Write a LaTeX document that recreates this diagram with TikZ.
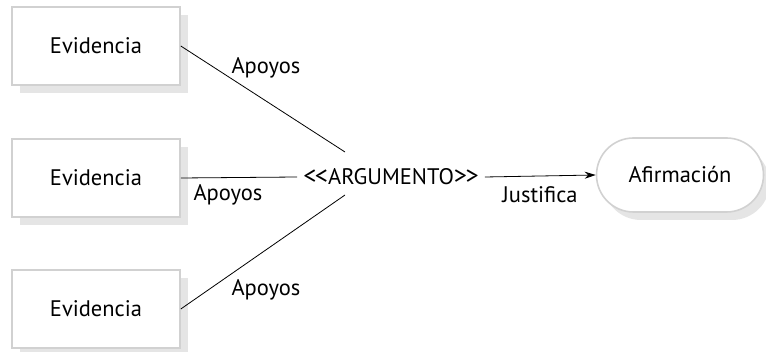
\documentclass[tikz,border=0pt]{standalone}
\usepackage{fontspec}
\setmainfont{PT Sans}
\usetikzlibrary{arrows.meta}
\newcommand{\bigbr}[1]{{\fontsize{26}{26}\selectfont #1\kern-1.5pt#1}}
\tikzset{
  evbox/.style={draw=black!18, line width=1.6pt, fill=white, minimum width=168pt, minimum height=78pt, inner sep=0pt},
  shadowbox/.style={fill=black!10, draw=none, minimum width=168pt, minimum height=78pt, inner sep=0pt},
  lbl/.style={font=\fontsize{22.5}{24}\selectfont, inner sep=0pt},
  conn/.style={line width=0.8pt, black},
}
\begin{document}
\begin{tikzpicture}[x=1pt,y=-1pt]
\useasboundingbox (0,0) rectangle (766,352);
% shadows
\node[shadowbox] at (104,54) {};
\node[shadowbox] at (104,186) {};
\node[shadowbox] at (104,317) {};
\fill[black!10, rounded corners=38pt] (603,146) rectangle (770,220);
% boxes
\node[evbox, lbl] (e1) at (96,46) {Evidencia};
\node[evbox, lbl] (e2) at (96,178) {Evidencia};
\node[evbox, lbl] (e3) at (96,309) {Evidencia};
\node[lbl, inner xsep=6pt] (arg) at (391,177) {\bigbr{<}ARGUMENTO\bigbr{>}};
\node[lbl, draw=black!18, line width=1.6pt, fill=white, rounded corners=37pt, minimum width=167pt, minimum height=74pt] (af) at (680,175) {Afirmación};
\coordinate (a1) at (345,152);
\coordinate (a3) at (345,195);
\draw[conn] (e1.east) -- (a1);
\draw[conn] (e2.east) -- (arg.west);
\draw[conn] (e3.east) -- (a3);
\draw[conn, -{Stealth[length=11pt,width=7pt]}] (arg.east) -- (af.west);
\node[lbl] at (266,68) {Apoyos};
\node[lbl] at (228,195) {Apoyos};
\node[lbl] at (266,290) {Apoyos};
\node[lbl] at (540,195) {Justifica};
\end{tikzpicture}
\end{document}
